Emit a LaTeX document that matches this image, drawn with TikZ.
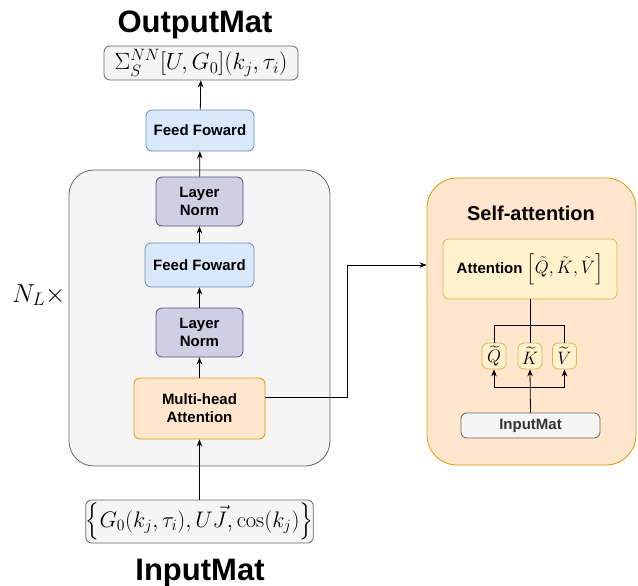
\RequirePackage{fix-cm}
\documentclass[tikz,border=0pt]{standalone}
\usepackage{amsmath}
\usepackage[no-math]{fontspec}
\setmainfont{Liberation Sans}
\usetikzlibrary{arrows.meta}
\definecolor{grayF}{HTML}{F5F5F5}
\definecolor{grayD}{HTML}{666666}
\definecolor{blueF}{HTML}{DAE8FC}
\definecolor{blueD}{HTML}{6C8EBF}
\definecolor{purF}{HTML}{D0CEE2}
\definecolor{purD}{HTML}{56517E}
\definecolor{orF}{HTML}{FFE6CC}
\definecolor{orD}{HTML}{D79B00}
\definecolor{yeF}{HTML}{FFF2CC}
\definecolor{yeD}{HTML}{D6B656}
\begin{document}
\begin{tikzpicture}[x=1pt,y=-1pt,
  box/.style={draw, rounded corners=6pt, line width=0.8pt, align=center, inner sep=0pt,
    font=\fontsize{15}{18}\selectfont\bfseries},
  graybox/.style={box, fill=grayF, draw=grayD},
  bluebox/.style={box, fill=blueF, draw=blueD},
  purbox/.style={box, fill=purF, draw=purD},
  orbox/.style={box, fill=orF, draw=orD},
  yebox/.style={box, fill=yeF, draw=yeD},
  qkv/.style={yebox, minimum width=24pt, minimum height=26pt, font=\fontsize{18}{20}\selectfont},
  title/.style={font=\fontsize{31}{34}\selectfont\bfseries, anchor=base, inner sep=0pt},
  arr/.style={-{Stealth[length=7pt,width=5.5pt]}, line width=0.8pt},
  ln/.style={line width=0.8pt}]
\useasboundingbox (0,0) rectangle (638,586);

% containers
\node[graybox, rounded corners=25pt, minimum width=261pt, minimum height=296pt] (cont) at (199.5,318) {};
\node[orbox, rounded corners=30pt, minimum width=209pt, minimum height=287pt] (self) at (531.5,321.5) {};

% left column
\node[title] (outt) at (195,33) {OutputMat};
\node[graybox, minimum width=194pt, minimum height=34pt, font=\fontsize{23.5}{26}\selectfont] (out) at (201,63) {$\Sigma_S^{NN}[U,G_0](k_j,\tau_i)$};
\node[bluebox, minimum width=108pt, minimum height=41pt] (ff1) at (200,130.5) {Feed Foward};
\node[purbox, minimum width=87pt, minimum height=49pt] (ln1) at (199.5,201.5) {Layer\\Norm};
\node[bluebox, minimum width=109pt, minimum height=44pt] (ff2) at (199.5,265) {Feed Foward};
\node[purbox, minimum width=87pt, minimum height=49pt] (ln2) at (199.5,332.5) {Layer\\Norm};
\node[orbox, minimum width=131pt, minimum height=61pt] (mha) at (199.5,408.5) {Multi-head\\Attention};
\node[graybox, minimum width=227pt, minimum height=43pt, font=\fontsize{22.5}{26}\selectfont] (inp) at (199.5,521.5) {$\Big\{G_0(k_j,\tau_i),U\vec{J},\cos(k_j)\Big\}$};
\node[title] (inpt) at (200,580) {InputMat};
\node[font=\fontsize{26}{30}\selectfont, anchor=base west, inner sep=0pt] (nl) at (12,302) {$N_L\times$};

\draw[arr] (inp) -- (mha);
\draw[arr] (mha) -- (ln2);
\draw[arr] (ln2) -- (ff2);
\draw[arr] (ff2) -- (ln1);
\draw[arr] (ln1) -- (ff1);
\draw[arr] (ff1) -- (out);

\coordinate (b1) at (347,397);
\coordinate (b2) at (347,265);
\draw[arr] (mha.east |- b1) -- (b1) -- (b2) -- (self.west |- b2);

% self-attention
\node[font=\fontsize{20}{24}\selectfont\bfseries] (st) at (531,213) {Self-attention};
\node[yebox, minimum width=174pt, minimum height=60pt] (att) at (530,269) {Attention {\mdseries\fontsize{18}{20}\selectfont$\Big[\tilde{Q},\tilde{K},\tilde{V}\Big]$}};
\node[qkv] (q) at (494,356) {$\widetilde{Q}$};
\node[qkv] (k) at (530,356) {$\widetilde{K}$};
\node[qkv] (v) at (564.5,356) {$\widetilde{V}$};
\node[graybox, minimum width=139pt, minimum height=25pt, text=black!80] (im) at (530.5,425.5) {InputMat};

\draw[ln] (att.south) -- (k.north);
\draw[ln] (q.north) -- ++(0,-17) -| (v.north);
\coordinate (j) at (530,387);
\draw[arr] (im.north) -- (k.south);
\draw[arr] (j) -| (q.south);
\draw[arr] (j) -| (v.south);
\end{tikzpicture}
\end{document}
